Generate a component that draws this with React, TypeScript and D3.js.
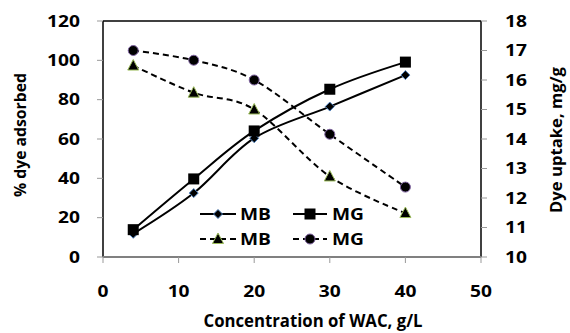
import React from "react";
import * as d3 from "d3";

const concentration = [4, 12, 20, 30, 40];
const mbAdsorbed = [11.8, 32.5, 60.4, 76.5, 92.5];
const mgAdsorbed = [13.9, 39.7, 64.1, 85.3, 99.1];
const mbUptake = [16.49, 15.57, 15.0, 12.73, 11.49];
const mgUptake = [17.0, 16.67, 16.0, 14.16, 12.37];
const xTicks = [0, 10, 20, 30, 40, 50];
const yLeftTicks = [0, 20, 40, 60, 80, 100, 120];
const yRightTicks = [10, 11, 12, 13, 14, 15, 16, 17, 18];

const W = 570, H = 333;
const L = 103, R = 481, T = 21, B = 257;
const FONT = "'Open Sans', sans-serif";
const SX = 1.2;

function Label(props: { x: number; y: number; anchor?: string; size?: number; children: any; dy?: string }) {
  const { x, y, anchor = "start", size = 16, children, dy = "0.36em" } = props;
  return (
    <text transform={`translate(${x},${y}) scale(${SX},1)`} textAnchor={anchor} dy={dy}
      fontFamily={FONT} fontWeight={700} fontSize={size} fill="#000">{children}</text>
  );
}

export default function App() {
  const x = d3.scaleLinear().domain([0, 50]).range([L, R]);
  const yL = d3.scaleLinear().domain([0, 120]).range([B, T]);
  const yR = d3.scaleLinear().domain([10, 18]).range([B, T]);

  const lineL = d3.line<number>().x((_, i) => x(concentration[i])).curve(d3.curveCatmullRom.alpha(0));
  const mbPath = lineL.y((d) => yL(d))(mbAdsorbed) as string;
  const mgPath = lineL.y((d) => yL(d))(mgAdsorbed) as string;
  const mbUPath = lineL.y((d) => yR(d))(mbUptake) as string;
  const mgUPath = lineL.y((d) => yR(d))(mgUptake) as string;

  const diamond = (cx: number, cy: number, k = 1) => (
    <path d={`M${cx},${cy - 4.5 * k}L${cx + 4.5 * k},${cy}L${cx},${cy + 4.5 * k}L${cx - 4.5 * k},${cy}Z`} fill="#000" stroke="#4F81BD" strokeWidth={1} />
  );
  const square = (cx: number, cy: number) => (
    <rect x={cx - 5.5} y={cy - 5.5} width={11} height={11} fill="#000" />
  );
  const triangle = (cx: number, cy: number) => (
    <path d={`M${cx},${cy - 6}L${cx + 5.5},${cy + 4.5}L${cx - 5.5},${cy + 4.5}Z`} fill="#000" stroke="#9BBB59" strokeWidth={1} />
  );
  const circle = (cx: number, cy: number) => (
    <circle cx={cx} cy={cy} r={5} fill="#000" stroke="#8064A2" strokeWidth={1} />
  );

  const dash = "6,4";

  return (
    <svg width={W} height={H} style={{ position: "absolute", left: 0, top: 0, background: "#fff" }}>
      <rect width={W} height={H} fill="#fff" />
      {/* plot border */}
      <line x1={L} y1={T} x2={R} y2={T} stroke="#000" strokeWidth={1.5} />
      <line x1={L} y1={T} x2={L} y2={B} stroke="#000" strokeWidth={1.5} />
      <line x1={R} y1={T} x2={R} y2={B} stroke="#000" strokeWidth={1.5} />
      <line x1={L} y1={B} x2={R} y2={B} stroke="#808080" strokeWidth={2} />

      {/* left ticks */}
      {yLeftTicks.map((t) => (
        <g key={"l" + t}>
          <line x1={L - 6} x2={L} y1={yL(t)} y2={yL(t)} stroke="#999" strokeWidth={1} />
          <Label x={80} y={yL(t)} anchor="end">{t}</Label>
        </g>
      ))}
      {/* right ticks */}
      {yRightTicks.map((t) => (
        <g key={"r" + t}>
          <line x1={R} x2={R + 6} y1={yR(t)} y2={yR(t)} stroke="#999" strokeWidth={1} />
          <Label x={505} y={yR(t)}>{t}</Label>
        </g>
      ))}
      {/* x ticks */}
      {xTicks.map((t) => (
        <g key={"x" + t}>
          <line x1={x(t)} x2={x(t)} y1={B} y2={B + 6} stroke="#999" strokeWidth={1} />
          <Label x={x(t)} y={291} anchor="middle">{t}</Label>
        </g>
      ))}

      {/* series */}
      <path d={mbUPath} fill="none" stroke="#000" strokeWidth={2} strokeDasharray={dash} />
      <path d={mgUPath} fill="none" stroke="#000" strokeWidth={2} strokeDasharray={dash} />
      <path d={mbPath} fill="none" stroke="#000" strokeWidth={2} />
      <path d={mgPath} fill="none" stroke="#000" strokeWidth={2} />
      {mbUptake.map((v, i) => <g key={"t" + i}>{triangle(x(concentration[i]), yR(v))}</g>)}
      {mgUptake.map((v, i) => <g key={"c" + i}>{circle(x(concentration[i]), yR(v))}</g>)}
      {mbAdsorbed.map((v, i) => <g key={"d" + i}>{diamond(x(concentration[i]), yL(v))}</g>)}
      {mgAdsorbed.map((v, i) => <g key={"s" + i}>{square(x(concentration[i]), yL(v))}</g>)}

      {/* legend */}
      <g>
        <line x1={200} x2={236} y1={214} y2={214} stroke="#000" strokeWidth={2} />
        {diamond(218, 214)}
        <Label x={240} y={214}>MB</Label>
        <line x1={293} x2={327} y1={214} y2={214} stroke="#000" strokeWidth={2} />
        {square(310, 214)}
        <Label x={332} y={214}>MG</Label>
        <line x1={200} x2={236} y1={239} y2={239} stroke="#000" strokeWidth={2} strokeDasharray={dash} />
        {triangle(218, 239)}
        <Label x={240} y={239}>MB</Label>
        <line x1={293} x2={327} y1={239} y2={239} stroke="#000" strokeWidth={2} strokeDasharray={dash} />
        {circle(310, 239)}
        <Label x={332} y={239}>MG</Label>
      </g>

      {/* axis titles */}
      <text x={313} y={327} textAnchor="middle" fontFamily={FONT} fontWeight={700} fontSize={17}
        textLength={219} lengthAdjust="spacingAndGlyphs" fill="#000">Concentration of WAC, g/L</text>
      <text transform="translate(20,135) rotate(-90)" textAnchor="middle" dy="0.35em" fontFamily={FONT} fontWeight={700}
        fontSize={16} textLength={124} lengthAdjust="spacingAndGlyphs" fill="#000">% dye adsorbed</text>
      <text transform="translate(556,140) rotate(-90)" textAnchor="middle" dy="0.35em" fontFamily={FONT} fontWeight={700}
        fontSize={16} textLength={146} lengthAdjust="spacingAndGlyphs" fill="#000">Dye uptake, mg/g</text>
    </svg>
  );
}
